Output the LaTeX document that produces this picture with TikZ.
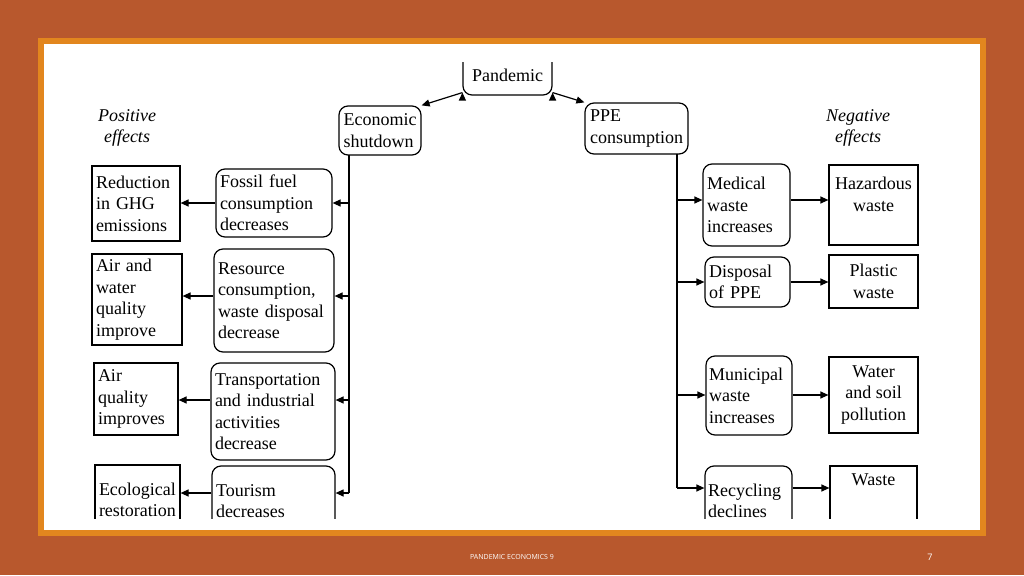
\documentclass[tikz,border=0pt]{standalone}
\usepackage{fontspec}
\setmainfont{Liberation Serif}
\newfontfamily\footf{Open Sans}
\usetikzlibrary{arrows.meta}
\definecolor{bg}{HTML}{B8582D}
\definecolor{fr}{HTML}{E2861E}
\begin{document}
\begin{tikzpicture}[x=1pt,y=-1pt,
 bx/.style={draw,line width=1.2pt,inner sep=3pt,align=left,font=\fontsize{18}{21.5}\selectfont},
 rb/.style={bx,rounded corners=9pt},
 ar/.style={-{Triangle[length=8pt,width=7pt]},line width=1.2pt},
 lb/.style={font=\fontsize{18}{21.5}\selectfont\itshape,align=center}]
\useasboundingbox (0,0) rectangle (1024,575);
\fill[bg] (0,0) rectangle (1024,575);
\fill[fr] (38,38) rectangle (986,536);
\fill[white] (44,44) rectangle (980,530);
\node[font=\footf\fontsize{7}{8}\selectfont,text=white] (ft) at (512,557) {PANDEMIC ECONOMICS 9};
\node[font=\footf\fontsize{9}{10}\selectfont,text=white] (pg) at (930,557) {7};
\begin{scope}
\clip (44,63) rectangle (980,518);
\node[rb,minimum width=89pt,minimum height=46pt,align=center] (pan) at (507.5,72) {\\[-2pt]Pandemic};
\node[rb,minimum width=82pt,minimum height=49pt] (eco) at (380,130.5) {Economic\\shutdown};
\node[rb,minimum width=103pt,minimum height=51pt] (ppe) at (636.5,128.5) {PPE\\consumption};
\draw[ar] (pan.south west)++(0,-3) coordinate (p1);
\draw[ar] (p1) -- (eco.north east);
\draw[ar] (pan.south east)++(0,-3) coordinate (p2);
\draw[ar] (p2) -- (ppe.north west);
\node[lb] (pos) at (127,128) {Positive\\effects};
\node[lb] (neg) at (858,128) {Negative\\effects};
% left
\node[rb,minimum width=116pt,minimum height=68pt,text width=108pt] (m1) at (274,203) {Fossil fuel\\consumption\\decreases};
\node[rb,minimum width=120pt,minimum height=103pt,text width=112pt] (m2) at (274,300.5) {Resource\\consumption,\\waste disposal\\decrease};
\node[rb,minimum width=124pt,minimum height=97pt,text width=116pt] (m3) at (273,411.5) {Transportation\\and industrial\\activities\\decrease};
\node[rb,minimum width=123pt,minimum height=70pt,text width=115pt] (m4) at (273.5,501) {Tourism\\decreases\\ };
\node[bx,minimum width=88pt,minimum height=75pt,text width=80pt] (o1) at (136,203.5) {Reduction\\in GHG\\emissions};
\node[bx,minimum width=90pt,minimum height=91pt,text width=82pt] (o2) at (137,299.5) {Air and\\water\\quality\\improve};
\node[bx,minimum width=84pt,minimum height=72pt,text width=76pt] (o3) at (136,399) {Air\\quality\\improves};
\node[bx,minimum width=85pt,minimum height=70pt,text width=77pt] (o4) at (137.5,500) {Ecological\\restoration\\ };
\coordinate (lt) at (349,155);
\coordinate (lb1) at (349,203);
\coordinate (lb2) at (349,296);
\coordinate (lb3) at (349,400);
\coordinate (lb4) at (349,493);
\draw[line width=1.2pt] (lt) -- (lb4);
\foreach \i in {1,2,3,4}{
 \draw[ar] (lb\i) -- (m\i.east|-lb\i);
 \draw[ar] (m\i.west|-lb\i) -- (o\i.east|-lb\i);}
% right
\node[rb,minimum width=87pt,minimum height=82pt,text width=79pt] (r1) at (746.5,205) {Medical\\waste\\increases};
\node[rb,minimum width=85pt,minimum height=50pt,text width=77pt] (r2) at (747.5,282) {Disposal\\of PPE};
\node[rb,minimum width=84pt,minimum height=79pt,text width=80pt] (r3) at (749,395.5) {Municipal\\waste\\increases};
\node[rb,minimum width=87pt,minimum height=70pt,text width=81pt] (r4) at (748.5,501) {Recycling\\declines\\ };
\node[bx,minimum width=89pt,minimum height=80pt,align=center] (q1) at (873.5,205) {Hazardous\\waste\\ };
\node[bx,minimum width=89pt,minimum height=53pt,align=center] (q2) at (873.5,281.5) {Plastic\\waste};
\node[bx,minimum width=89pt,minimum height=76pt,align=center] (q3) at (873.5,395) {Water\\and soil\\pollution};
\node[bx,minimum width=87pt,minimum height=70pt,align=center] (q4) at (873.5,501) {Waste\\ \\ };
\coordinate (rt) at (677,154);
\coordinate (rb1) at (677,200);
\coordinate (rb2) at (677,282);
\coordinate (rb3) at (677,395);
\coordinate (rb4) at (677,488);
\draw[line width=1.2pt] (rt) -- (rb4);
\foreach \i in {1,2,3,4}{
 \draw[ar] (rb\i) -- (r\i.west|-rb\i);
 \draw[ar] (r\i.east|-rb\i) -- (q\i.west|-rb\i);}
\end{scope}
\end{tikzpicture}
\end{document}
